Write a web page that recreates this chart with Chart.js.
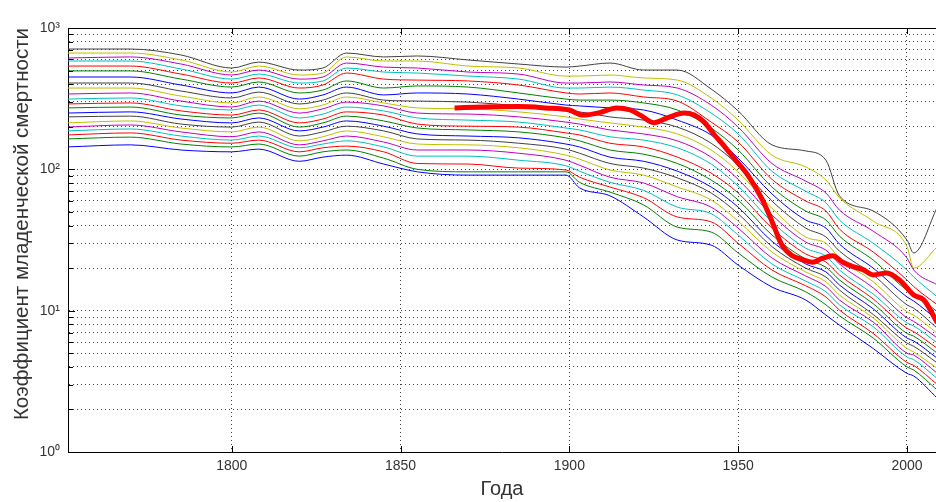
<!DOCTYPE html>
<html lang="ru">
<head>
    <meta charset="UTF-8">
    <title>Коэффициент младенческой смертности</title>
    <script src="https://cdn.jsdelivr.net/npm/chart.js"></script>
    <style>
        html, body { margin: 0; padding: 0; background: #ffffff; }
        #contenedor { width: 936px; height: 502px; }
    </style>
</head>
<body>
<div id="contenedor"><canvas id="grafico"></canvas></div>
<script>
// Годы (общие узлы для тонких кривых)
const years = [1751, 1770, 1785, 1800, 1808, 1820, 1827, 1834, 1845, 1855, 1870, 1885, 1899, 1903,
               1912, 1922, 1932, 1942, 1950, 1960, 1970, 1976, 1980, 1990, 2000, 2002, 2009];

// Тонкие кривые, снизу вверх
const curve01 = [144, 149, 137, 133, 139, 114, 122, 126, 109, 96, 91, 91, 91, 74, 65, 46, 31.6, 29.1, 21, 14.7, 11.9, 9.3, 7.9, 5.4, 3.6, 3.45, 2.4];
const curve02 = [164, 169, 151, 144, 151, 124, 133, 137, 120, 100, 96, 96, 96, 81, 69, 56, 39, 36, 25.6, 17.3, 13.6, 11, 9.2, 6.4, 4.0, 3.8, 2.74];
const curve03 = [175, 181, 161, 153, 161, 133, 142, 146, 133, 110, 109, 102, 99, 88, 75, 63, 46, 42.5, 30, 19.4, 15, 12.5, 10.1, 6.9, 4.3, 4.1, 3.0];
const curve04 = [187, 193, 172, 161, 172, 142, 151, 159, 144, 124, 124, 116, 106, 97, 81, 71, 54, 48.5, 34.3, 21.4, 16.2, 13.6, 11, 7.7, 4.7, 4.5, 3.3];
const curve05 = [199, 206, 184, 170, 184, 149, 159, 172, 156, 137, 137, 130, 116, 107, 88, 80, 64, 54, 38.4, 23.6, 17.6, 14.8, 11.9, 8.3, 5.0, 4.85, 3.6];
const curve06 = [213, 220, 196, 184, 199, 159, 170, 187, 170, 151, 149, 142, 126, 118, 99, 91, 75, 60.7, 43, 26, 18.8, 16, 12.9, 8.9, 5.4, 5.1, 3.9];
const curve07 = [235, 238, 209, 199, 216, 172, 184, 202, 187, 164, 161, 153, 139, 130, 110, 102, 87, 68, 48.5, 28.4, 20, 17.3, 14, 9.4, 5.9, 5.6, 4.26];
const curve08 = [250, 255, 227, 213, 231, 187, 199, 220, 202, 178, 172, 167, 151, 144, 122, 114, 97, 75, 54, 31, 21.4, 18.8, 15.2, 10.3, 6.4, 6.1, 4.6];
const curve09 = [272, 276, 242, 231, 250, 199, 213, 238, 220, 196, 190, 184, 167, 159, 137, 128, 110, 84, 60.7, 34.3, 23.2, 20.3, 16.5, 11.2, 6.9, 6.6, 5.0];
const curve10 = [290, 295, 259, 242, 263, 213, 227, 255, 242, 209, 202, 199, 181, 175, 153, 144, 122, 94, 68, 38.4, 25.2, 22.1, 17.9, 12.1, 7.5, 7.1, 5.4];
const curve11 = [314, 320, 281, 263, 285, 231, 246, 276, 259, 231, 223, 216, 196, 190, 170, 161, 142, 109, 76, 42.5, 27.7, 24.3, 19.4, 13.1, 8.2, 7.8, 5.9];
const curve12 = [341, 347, 304, 276, 304, 250, 268, 299, 281, 250, 246, 235, 216, 209, 190, 178, 159, 122, 85, 47.5, 30.6, 26.8, 21.4, 14.5, 8.9, 8.4, 6.4];
const curve13 = [376, 376, 330, 295, 325, 268, 285, 325, 295, 272, 268, 255, 235, 227, 213, 199, 178, 137, 96, 53, 33.2, 30, 23.6, 16, 9.8, 9.3, 6.9];
const curve14 = [408, 408, 358, 320, 352, 290, 309, 347, 309, 304, 299, 281, 259, 255, 235, 223, 199, 153, 107, 59.7, 38.4, 33.2, 26.4, 17.9, 11, 10.4, 7.5];
const curve15 = [450, 450, 395, 347, 382, 314, 336, 382, 336, 347, 341, 314, 285, 281, 272, 263, 223, 175, 120, 67, 43.8, 38.4, 29.6, 20, 12.5, 11.7, 8.6];
const curve16 = [497, 497, 435, 382, 415, 347, 364, 422, 376, 389, 382, 347, 314, 309, 309, 295, 263, 196, 137, 75, 50.7, 43.8, 33.7, 22.8, 14, 13.3, 9.8];
const curve17 = [538, 538, 472, 408, 443, 376, 395, 480, 435, 428, 422, 395, 347, 341, 347, 325, 304, 216, 156, 85, 59.7, 50.7, 37.8, 26, 16.5, 14.8, 11];
const curve18 = [584, 584, 513, 435, 472, 408, 422, 521, 488, 480, 457, 435, 376, 376, 382, 364, 336, 250, 178, 97, 70, 58, 43.8, 30, 19.4, 17.3, 12.5];
const curve19 = [613, 624, 556, 465, 504, 435, 450, 565, 529, 521, 488, 472, 408, 408, 415, 395, 376, 285, 199, 110, 82.6, 68, 51.5, 36.5, 23.6, 19.4, 15.2];
const curve20 = [665, 665, 594, 488, 538, 465, 480, 624, 584, 584, 538, 521, 457, 457, 465, 443, 428, 320, 223, 126, 104, 84, 63, 43, 28.4, 20, 28.4];
const curve21 = [710, 710, 644, 521, 574, 504, 521, 665, 624, 634, 594, 556, 529, 538, 565, 504, 504, 370, 259, 149, 135, 116, 65, 50.7, 31.6, 25.6, 54];

// Толстая красная кривая
const redYears  = [1866, 1875, 1885, 1893, 1900, 1904, 1909, 1914, 1918, 1921, 1925, 1929, 1934, 1937, 1940, 1943,
                   1946, 1949, 1953, 1957, 1960, 1963, 1966, 1969, 1972, 1975, 1978, 1981, 1984, 1987, 1990, 1994,
                   1998, 2002, 2005, 2009];
const redValues = [272, 276, 278, 272, 263, 242, 252, 272, 263, 242, 214, 231, 250, 242, 215, 175,
                   145, 118, 90, 62, 43, 29, 24.5, 23, 22, 23.5, 24.5, 22, 20.5, 19.5, 17.9, 18.5,
                   16.3, 12.9, 11.9, 8.2];

// Оси
const xTicks = [1800, 1850, 1900, 1950, 2000];
const yTicks = [1, 2, 3, 4, 5, 6, 7, 8, 9, 10, 20, 30, 40, 50, 60, 70, 80, 90,
                100, 200, 300, 400, 500, 600, 700, 800, 900, 1000];
const yLabels = { 1: '10⁰', 10: '10¹', 100: '10²', 1000: '10³' };

// Цвета MATLAB по порядку
const lineColors = ['#0000ff', '#008000', '#ff0000', '#00bfbf', '#bf00bf', '#bfbf00', '#404040'];

const curves = [curve01, curve02, curve03, curve04, curve05, curve06, curve07, curve08, curve09, curve10, curve11,
                curve12, curve13, curve14, curve15, curve16, curve17, curve18, curve19, curve20, curve21];

const fontFamily = "'Liberation Sans', Arial, sans-serif";

const datasets = curves.map((vals, i) => ({
    data: years.map((yr, k) => ({ x: yr, y: vals[k] })),
    borderColor: lineColors[i % 7],
    borderWidth: 1,
    pointRadius: 0,
    cubicInterpolationMode: 'monotone',
    order: 2
}));
datasets.push({
    data: redYears.map((yr, k) => ({ x: yr, y: redValues[k] })),
    borderColor: '#ff0000',
    borderWidth: 5,
    pointRadius: 0,
    cubicInterpolationMode: 'monotone',
    order: 0
});

// Рамка сверху и засечки внутрь, как в MATLAB
const marcoPlugin = {
    id: 'marco',
    afterDraw(chart) {
        const { ctx, chartArea: a, scales: { x, y } } = chart;
        ctx.save();
        ctx.strokeStyle = '#000';
        ctx.lineWidth = 1;
        ctx.beginPath();
        ctx.moveTo(a.left, a.top + 0.5);
        ctx.lineTo(a.right, a.top + 0.5);
        x.ticks.forEach(t => {
            const px = Math.round(x.getPixelForValue(t.value)) + 0.5;
            ctx.moveTo(px, a.bottom); ctx.lineTo(px, a.bottom - 6);
            ctx.moveTo(px, a.top); ctx.lineTo(px, a.top + 6);
        });
        y.ticks.forEach(t => {
            const py = Math.round(y.getPixelForValue(t.value)) + 0.5;
            const len = yLabels[t.value] ? 7 : 5;
            ctx.moveTo(a.left, py); ctx.lineTo(a.left + len, py);
        });
        ctx.stroke();
        ctx.restore();
    }
};

new Chart(document.getElementById('grafico'), {
    type: 'line',
    data: { datasets: datasets },
    options: {
        responsive: true,
        maintainAspectRatio: false,
        animation: false,
        devicePixelRatio: 1,
        layout: { padding: { top: 28, right: 0, left: 0, bottom: 0 } },
        plugins: { legend: { display: false }, tooltip: { enabled: false } },
        scales: {
            x: {
                type: 'linear',
                min: 1751.5,
                max: 2008.6,
                afterBuildTicks: s => { s.ticks = xTicks.map(v => ({ value: v })); },
                afterFit: s => { s.height = 50; },
                ticks: {
                    callback: v => String(v),
                    maxRotation: 0,
                    autoSkip: false,
                    padding: 6,
                    color: '#333',
                    font: { family: fontFamily, size: 14 }
                },
                grid: { color: 'rgba(0,0,0,0.75)', lineWidth: 1, drawTicks: false },
                border: { display: true, color: '#000', width: 1, dash: [1, 3] },
                title: {
                    display: true,
                    text: 'Года',
                    color: '#333',
                    font: { family: fontFamily, size: 20 },
                    padding: { top: 0, bottom: 1 }
                }
            },
            y: {
                type: 'logarithmic',
                min: 1,
                max: 1000,
                afterBuildTicks: s => { s.ticks = yTicks.map(v => ({ value: v })); },
                afterFit: s => { s.width = 68; },
                ticks: {
                    callback: v => yLabels[v] || '',
                    autoSkip: false,
                    padding: 8,
                    color: '#333',
                    font: { family: fontFamily, size: 14 }
                },
                grid: { color: 'rgba(0,0,0,0.75)', lineWidth: 1, drawTicks: false },
                border: { display: true, color: '#000', width: 1, dash: [1, 3] },
                title: {
                    display: true,
                    text: 'Коэффициент младенческой смертности',
                    align: 'end',
                    color: '#333',
                    font: { family: fontFamily, size: 20.5 },
                    padding: { top: 10, bottom: 0 }
                }
            }
        }
    },
    plugins: [marcoPlugin]
});
</script>
</body>
</html>
